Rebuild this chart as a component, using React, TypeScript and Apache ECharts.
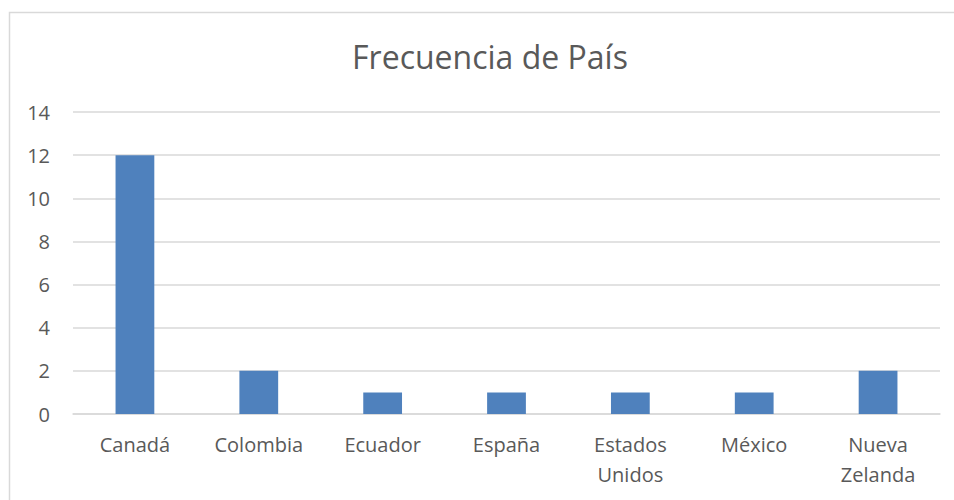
import React, { useEffect, useRef } from "react";
import * as echarts from "echarts";

const categories = ["Canadá", "Colombia", "Ecuador", "España", "Estados\nUnidos", "México", "Nueva\nZelanda"];
const frequencies = [12, 2, 1, 1, 1, 1, 2];
const titleText = "Frecuencia de País";

const FONT = "'Open Sans', 'Noto Sans', sans-serif";
const TEXT = "#595959";
const GRID = "#d9d9d9";

export default function App() {
  const ref = useRef<HTMLDivElement>(null);
  useEffect(() => {
    if (!ref.current) return;
    const chart = echarts.init(ref.current, null, { renderer: "svg" });
    chart.setOption({
      animation: false,
      backgroundColor: "#ffffff",
      textStyle: { fontFamily: FONT },
      title: {
        text: titleText,
        left: 485,
        top: 35,
        textAlign: "center",
        textStyle: { fontFamily: FONT, fontSize: 32, fontWeight: "normal", color: TEXT },
      },
      graphic: [
        {
          type: "rect",
          shape: { x: 9.5, y: 12.5, width: 960, height: 500 },
          style: { fill: "none", stroke: GRID, lineWidth: 1.5 },
          silent: true,
          z: -1,
        },
      ],
      grid: { left: 73, right: 14, top: 112, bottom: 86, containLabel: false },
      xAxis: {
        type: "category",
        data: categories,
        axisLine: { show: true, lineStyle: { color: GRID, width: 1.5 } },
        axisTick: { show: false },
        axisLabel: {
          color: TEXT,
          fontSize: 20,
          fontFamily: FONT,
          lineHeight: 30,
          margin: 15,
          interval: 0,
        },
      },
      yAxis: {
        type: "value",
        min: 0,
        max: 14,
        interval: 2,
        axisLine: { show: false },
        axisTick: { show: false },
        splitLine: { lineStyle: { color: GRID, width: 1.5 } },
        axisLabel: { color: TEXT, fontSize: 20, fontFamily: FONT, margin: 23 },
      },
      series: [
        {
          type: "bar",
          data: frequencies,
          barWidth: "31.3%",
          itemStyle: { color: "#4f81bd" },
        },
      ],
    });
    return () => chart.dispose();
  }, []);
  return (
    <div
      ref={ref}
      style={{ position: "fixed", left: 0, top: 0, width: 954, height: 500 }}
    />
  );
}
